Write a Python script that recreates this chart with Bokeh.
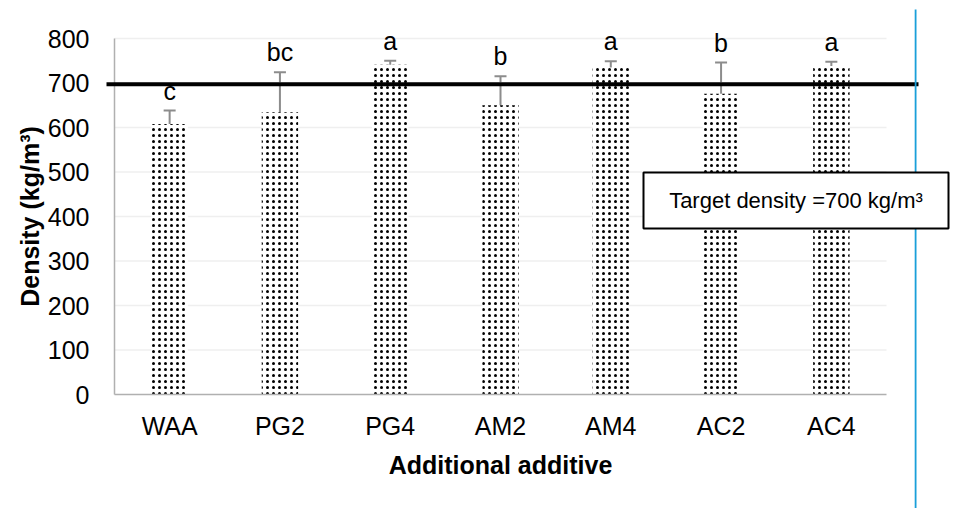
from bokeh.plotting import figure
from bokeh.models import (Range1d, FixedTicker, Whisker, TeeHead, BoxAnnotation, Label,
                          ColumnDataSource)
from bokeh.embed import file_html
from bokeh.resources import INLINE
from bokeh.core.properties import value

# ---- data ----
categories = ["WAA", "PG2", "PG4", "AM2", "AM4", "AC2", "AC4"]
density = [608, 634, 741, 650, 735, 676, 738]
err_low = [580, 580, 732, 615, 724, 604, 732]
err_high = [638, 724, 750, 715, 749, 746, 748]
letters = ["c", "bc", "a", "b", "a", "b", "a"]
y_ticks = [0, 100, 200, 300, 400, 500, 600, 700, 800]
target_density = 700
x_title = "Additional additive"
y_title = "Density (kg/m³)"
legend_text = "Target density =700 kg/m³"

FONT = "Liberation Sans"

# ---- geometry (page px; the figure starts at the page origin) ----
W, H = 966, 508
FR_L, FR_R, FR_T, FR_B = 114, 886, 38, 394        # plot area
SX = (FR_R - FR_L) / len(categories)             # px per category
SY = (FR_B - FR_T) / 800.0                       # px per density unit
def px2x(px):
    return (px - FR_L) / SX
def py2y(py):
    return (FR_B - py) / SY

x_pos = [i + 0.5 for i in range(len(categories))]

p = figure(width=W, height=H,
           x_range=Range1d(px2x(0), px2x(W)),
           y_range=Range1d(py2y(H), py2y(0)),
           output_backend="svg", toolbar_location=None,
           min_border=0, min_border_left=0, min_border_right=0,
           min_border_top=0, min_border_bottom=0)
p.outline_line_color = None
p.background_fill_color = "white"
p.border_fill_color = "white"
p.xgrid.visible = False
p.ygrid.visible = False

# gridlines limited to the plot area
p.segment(x0=0, x1=len(categories), y0=y_ticks[1:], y1=y_ticks[1:],
          line_color="#efefef", line_width=1.5)

xa, ya = p.xaxis[0], p.yaxis[0]
xa.fixed_location = 0
ya.fixed_location = 0
xa.bounds = (0, len(categories))
ya.bounds = (0, 800)
xa.ticker = FixedTicker(ticks=x_pos)
xa.major_label_overrides = {x: c for x, c in zip(x_pos, categories)}
ya.ticker = FixedTicker(ticks=y_ticks)

for ax in (xa, ya):
    ax.axis_line_color = "#b0b0b0"
    ax.axis_line_width = 1.5
    ax.major_tick_line_color = None
    ax.minor_tick_line_color = None
    ax.major_label_text_font = FONT
    ax.major_label_text_font_size = "25px"
    ax.major_label_text_color = "black"
    ax.axis_label_text_font = FONT
    ax.axis_label_text_font_size = "25px"
    ax.axis_label_text_font_style = "bold"
    ax.axis_label_text_color = "black"

ya.major_label_standoff = 19
ya.axis_label_standoff = 1
ya.axis_label = y_title
xa.major_label_standoff = 11
xa.axis_label_standoff = 8
xa.axis_label = x_title

# bars (dotted fill)
p.vbar(x=x_pos, top=density, width=0.33, fill_color="white",
       line_color=None, hatch_pattern="dot", hatch_color="black",
       hatch_scale=6, hatch_weight=2.2)

# error bars
src = ColumnDataSource(dict(x=x_pos, lower=err_low, upper=err_high))
err = Whisker(base="x", lower="lower", upper="upper", source=src,
              line_color="#8c8c8c", line_width=2,
              upper_head=TeeHead(size=12, line_color="#8c8c8c", line_width=2),
              lower_head=TeeHead(size=12, line_color="#8c8c8c", line_width=2))
p.add_layout(err)

# significance letters
p.text(x=x_pos, y=err_high, text=letters, text_align="center",
       text_baseline="bottom", y_offset=-6, text_font=value(FONT),
       text_font_size="25px", text_color="black")

# target line (extends slightly beyond plot area)
p.add_layout(BoxAnnotation(left=px2x(106), right=px2x(918),
                           top=target_density + 1.5, bottom=target_density - 7.5,
                           fill_color="black", fill_alpha=1, line_color=None))

# vertical blue line at the right
p.add_layout(BoxAnnotation(left=px2x(914.2), right=px2x(916), top=py2y(9), bottom=py2y(H),
                           fill_color="#1a9fd9", fill_alpha=1, line_color=None))

# legend box
p.add_layout(BoxAnnotation(left=px2x(643), right=px2x(948), top=py2y(172), bottom=py2y(228),
                           fill_color="white", fill_alpha=1, line_color="black",
                           line_alpha=1, line_width=2))
p.add_layout(Label(x=px2x(795.5), y=py2y(200), text=legend_text, text_align="center",
                   text_baseline="middle", text_font=FONT, text_font_size="22px",
                   text_color="black"))

open("out.html", "w").write(file_html(p, INLINE))
